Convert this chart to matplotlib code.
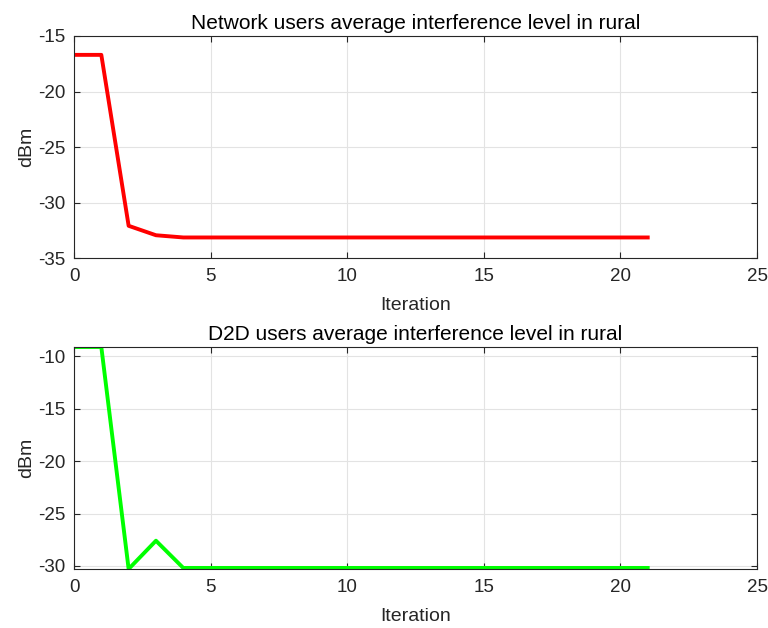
import numpy as np
import matplotlib
matplotlib.use("Agg")
import matplotlib.pyplot as plt

plt.rcParams['font.family'] = ['Liberation Sans', 'DejaVu Sans']
plt.rcParams['axes.unicode_minus'] = False

iterations = list(range(22))
network_dbm = [-16.7, -16.7, -32.1, -32.95, -33.15] + [-33.15] * 17
d2d_dbm = [-9.1, -9.1, -30.3, -27.6, -30.2] + [-30.2] * 17

titles = ["Network users average interference level in rural",
          "D2D users average interference level in rural"]

fig = plt.figure(figsize=(7.68, 6.28), dpi=100)
ax1 = fig.add_axes([74/768, 1-258/628, 683/768, 222/628])
ax2 = fig.add_axes([74/768, 1-569/628, 683/768, 222/628])

def style(ax, title):
    ax.set_xlim(0, 25)
    ax.set_xticks([0, 5, 10, 15, 20, 25])
    ax.grid(True, color='#e3e3e3', linewidth=0.8)
    ax.set_axisbelow(True)
    ax.tick_params(direction='in', length=4, labelsize=13.5, colors='#262626',
                   top=True, right=True, width=0.8, pad=7)
    ax.tick_params(axis='y', pad=6)
    for s in ax.spines.values():
        s.set_color('#262626')
        s.set_linewidth(0.8)
    ax.set_xlabel("Iteration", fontsize=14, color='#262626', labelpad=9)
    ax.set_ylabel("dBm", fontsize=14, color='#262626', labelpad=2)
    ax.set_title(title, fontsize=15, color='black', pad=5)

ax1.plot(iterations, network_dbm, color='#ff0000', linewidth=2.8)
ax1.set_ylim(-35, -15)
ax1.set_yticks([-35, -30, -25, -20, -15])
style(ax1, titles[0])

ax2.plot(iterations, d2d_dbm, color='#00ff00', linewidth=2.8)
ax2.set_ylim(min(d2d_dbm), max(d2d_dbm))
ax2.set_yticks([-30, -25, -20, -15, -10])
style(ax2, titles[1])

fig.savefig("out.png", dpi=100)
